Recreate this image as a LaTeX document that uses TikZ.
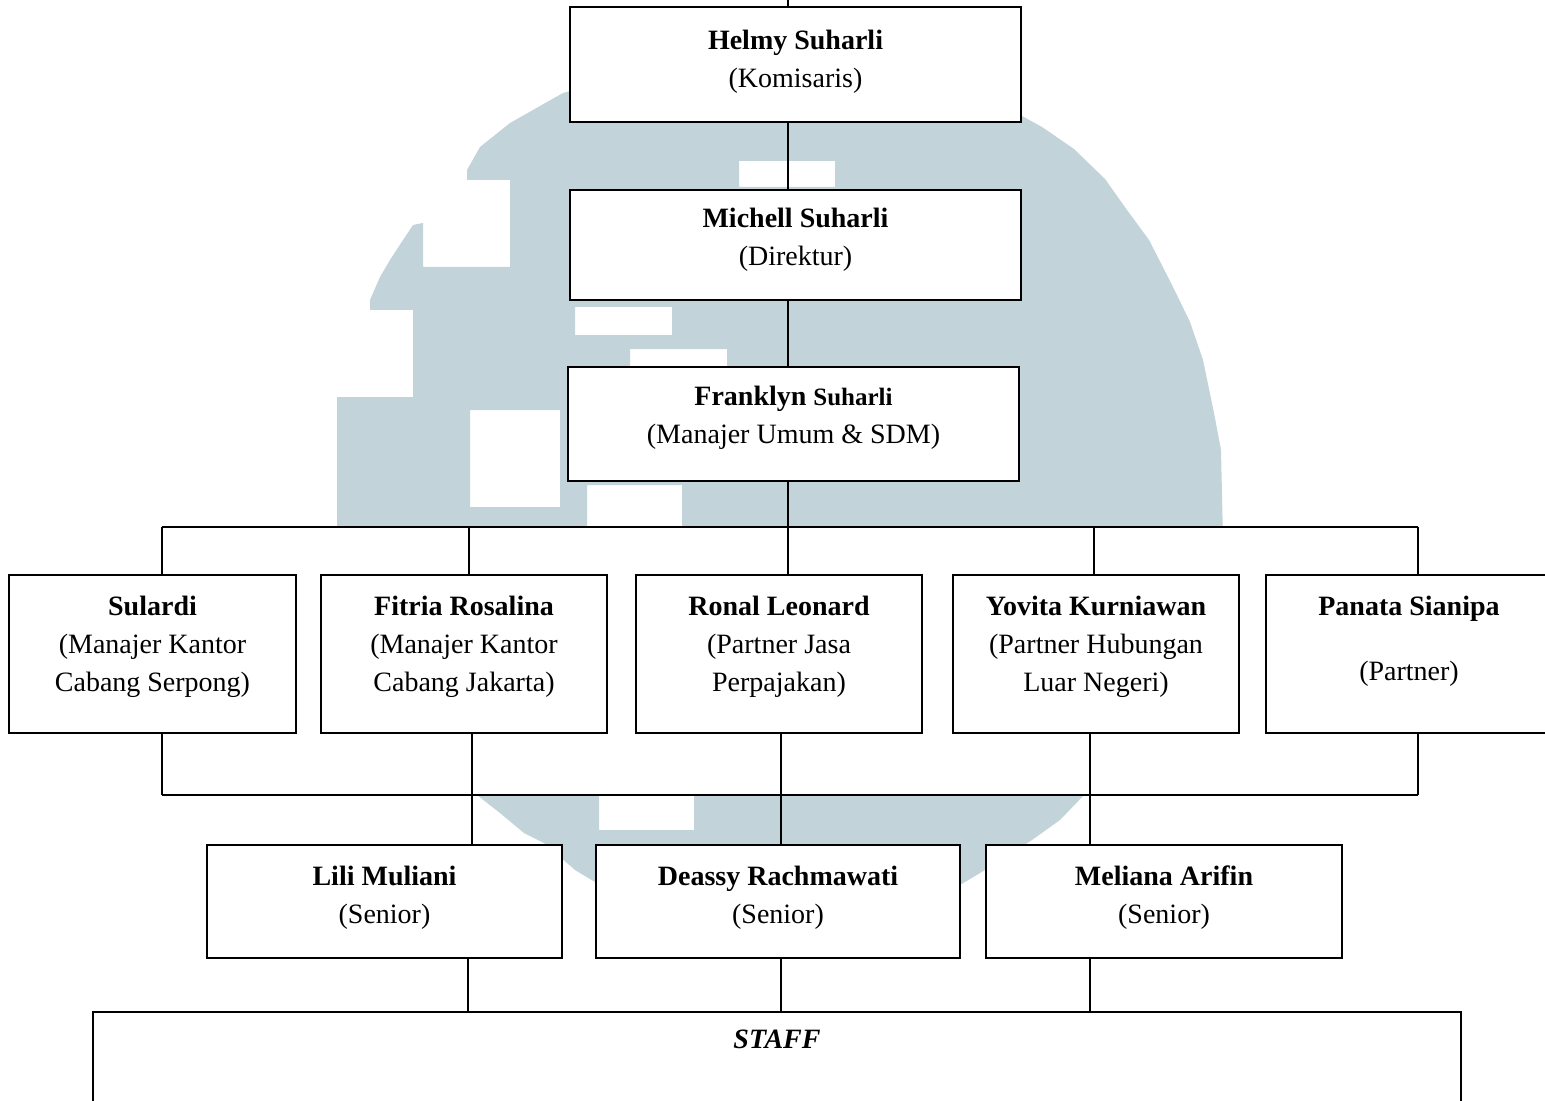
\documentclass[tikz,border=0pt]{standalone}
\usepackage{fontspec}
\setmainfont{Liberation Serif}
\usetikzlibrary{fit}
\definecolor{wmark}{RGB}{194,211,218}
\tikzset{
  box/.style={draw, fill=white, line width=1pt, inner sep=0pt},
  who/.style={anchor=north, inner sep=0pt, align=center, font=\fontsize{14}{19}\selectfont},
  link/.style={line width=0.75pt},
}
\begin{document}
\begin{tikzpicture}[x=0.5pt, y=-0.5pt]
\useasboundingbox (0,0) rectangle (1545,1101);
\clip (0,0) rectangle (1545,1101);
% faded logo behind the chart
\begin{scope}
  \clip (0,0) rectangle (1545,527) (0,795) rectangle (1545,1101);
  \fill[wmark, even odd rule]
    (790,30) -- (1022,116) -- (1042,127) -- (1074,149) -- (1105,179) -- (1127,210)
    -- (1149,240) -- (1172,285) -- (1190,322) -- (1203,360) -- (1214,413)
    -- (1221,450) -- (1223,540) -- (1090,785) -- (1084,795) -- (1060,820)
    -- (1032,840) -- (985,870) -- (960,885) -- (600,885) -- (575,870)
    -- (544,843) -- (524,833) -- (500,813) -- (477,795) -- (470,785)
    -- (337,540) -- (337,397) -- (413,397) -- (413,310) -- (370,310)
    -- (370,300) -- (380,277) -- (390,260) -- (403,240) -- (413,225)
    -- (423,223) -- (423,267) -- (510,267) -- (510,180) -- (467,180)
    -- (467,170) -- (480,147) -- (510,123) -- (563,93) -- cycle
    (470,410) rectangle (560,507)
    (587,485) rectangle (682,540)
    (575,307) rectangle (672,335)
    (630,349) rectangle (727,371)
    (739,161) rectangle (835,187)
    (599,795) rectangle (694,830);
\end{scope}

% boxes
\node[box, fit={(570,7) (1021,122)}] (helmy) {};
\node[box, fit={(570,190) (1021,300)}] (michell) {};
\node[box, fit={(568,367) (1019,481)}] (franklyn) {};
\node[box, fit={(9,575) (296,733)}] (sulardi) {};
\node[box, fit={(321,575) (607,733)}] (fitria) {};
\node[box, fit={(636,575) (922,733)}] (ronal) {};
\node[box, fit={(953,575) (1239,733)}] (yovita) {};
\node[box, fit={(1266,575) (1552,733)}] (panata) {};
\node[box, fit={(207,845) (562,958)}] (lili) {};
\node[box, fit={(596,845) (960,958)}] (deassy) {};
\node[box, fit={(986,845) (1342,958)}] (meliana) {};
\node[box, fit={(93,1012) (1461,1140)}] (staff) {};

% texts
\node[who] (helmy-t) at ([yshift=-11.75pt]helmy.north) {\textbf{Helmy Suharli}\\(Komisaris)};
\node[who] (michell-t) at ([yshift=-9.25pt]michell.north) {\textbf{Michell Suharli}\\(Direktur)};
\node[who] (franklyn-t) at ([yshift=-9.75pt]franklyn.north)
  {\textbf{Franklyn {\fontsize{12.5}{19}\selectfont Suharli}}\\(Manajer Umum \& SDM)};
\node[who] (sulardi-t) at ([yshift=-10.75pt]sulardi.north) {\textbf{Sulardi}\\(Manajer Kantor\\Cabang Serpong)};
\node[who] (fitria-t) at ([yshift=-10.75pt]fitria.north) {\textbf{Fitria Rosalina}\\(Manajer Kantor\\Cabang Jakarta)};
\node[who] (ronal-t) at ([yshift=-10.75pt]ronal.north) {\textbf{Ronal Leonard}\\(Partner Jasa\\Perpajakan)};
\node[who] (yovita-t) at ([yshift=-10.75pt]yovita.north) {\textbf{Yovita Kurniawan}\\(Partner Hubungan\\Luar Negeri)};
\node[who] (panata-t) at ([yshift=-10.75pt]panata.north) {\textbf{Panata Sianipa}\\[13.5pt](Partner)};
\node[who] (lili-t) at ([yshift=-10.75pt]lili.north) {\textbf{Lili Muliani}\\(Senior)};
\node[who] (deassy-t) at ([yshift=-10.75pt]deassy.north) {\textbf{Deassy Rachmawati}\\(Senior)};
\node[who] (meliana-t) at ([yshift=-10.75pt]meliana.north) {\textbf{Meliana Arifin}\\(Senior)};
\node[who] (staff-t) at ([yshift=-9.5pt]staff.north) {\textbf{\textit{STAFF}}};

% connectors
\coordinate (spine) at (788,0);
\coordinate (busAl) at (162,527);
\coordinate (busAr) at (1418,527);
\coordinate (busBl) at (162,795);
\coordinate (busBr) at (1418,795);
\draw[link] (spine) -- (helmy.north -| spine);
\draw[link] (helmy.south -| spine) -- (michell.north -| spine);
\draw[link] (michell.south -| spine) -- (franklyn.north -| spine);
\draw[link] (franklyn.south -| spine) -- (busAl -| spine);
\draw[link] (busAl) -- (busAr);
\foreach \n/\x in {sulardi/162, fitria/469, ronal/788, yovita/1094, panata/1418}
  \draw[link] (\x,527) -- (\x,0 |- \n.north);
\foreach \n/\x in {sulardi/162, fitria/472, ronal/781, yovita/1090, panata/1418}
  \draw[link] (\x,0 |- \n.south) -- (\x,795);
\draw[link] (busBl) -- (busBr);
\foreach \n/\x in {lili/472, deassy/781, meliana/1090}
  \draw[link] (\x,795) -- (\x,0 |- \n.north);
\foreach \n/\x in {lili/468, deassy/781, meliana/1090}
  \draw[link] (\x,0 |- \n.south) -- (\x,0 |- staff.north);
\end{tikzpicture}
\end{document}
